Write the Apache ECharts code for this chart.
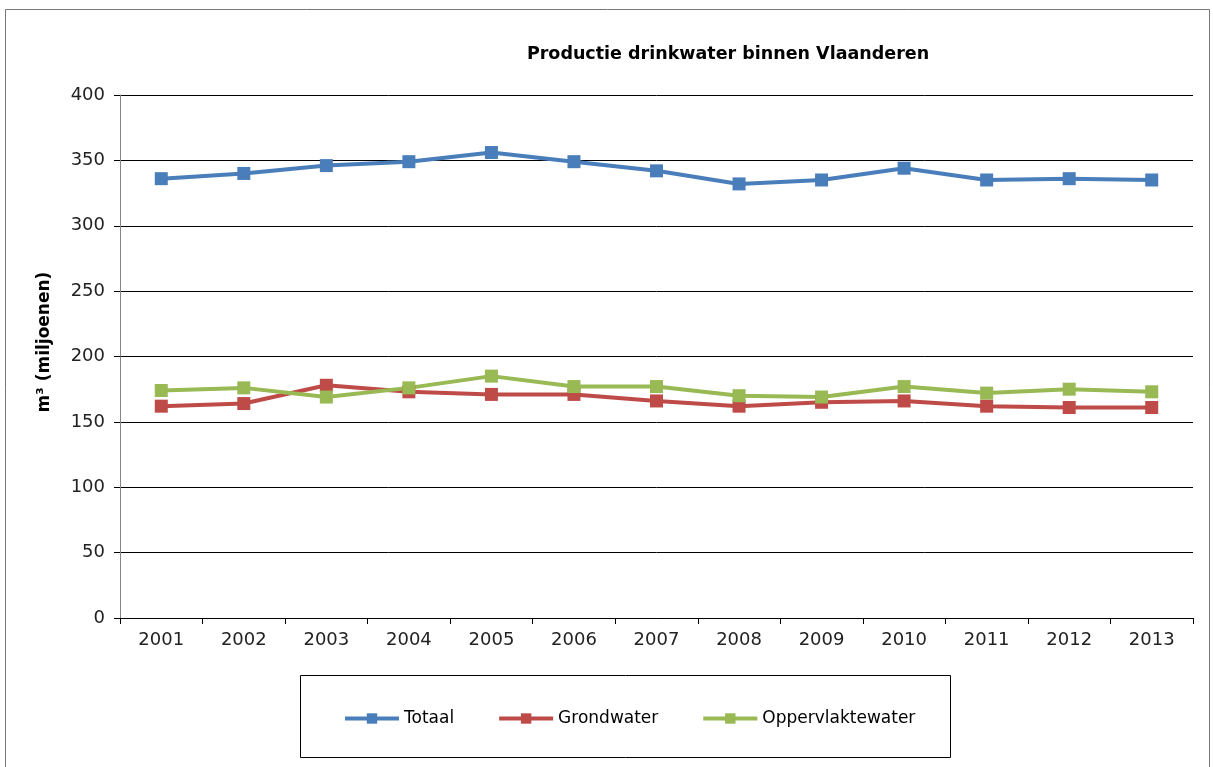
<!DOCTYPE html>
<html>
<head>
<meta charset="utf-8">
<script src="https://cdn.jsdelivr.net/npm/echarts@6/dist/echarts.min.js"></script>
<style>html,body{margin:0;padding:0;background:#fff}#c{width:1213px;height:767px}</style>
</head>
<body>
<div id="c"></div>
<script>
var years = ['2001','2002','2003','2004','2005','2006','2007','2008','2009','2010','2011','2012','2013'];
var totaal = [336, 340, 346, 349, 356, 349, 342, 332, 335, 344, 335, 336, 335];
var grondwater = [162, 164, 178, 173, 171, 171, 166, 162, 165, 166, 162, 161, 161];
var oppervlaktewater = [174, 176, 169, 176, 185, 177, 177, 170, 169, 177, 172, 175, 173];
var yTicks = [0, 50, 100, 150, 200, 250, 300, 350, 400];

var chart = echarts.init(document.getElementById('c'));
var wfont = 'DejaVu Sans, sans-serif';
function mk(name, data, color) {
  return {
    name: name, type: 'line', data: data,
    symbol: 'rect', symbolSize: 13,
    lineStyle: { color: color, width: 4 },
    itemStyle: { color: color },
    emphasis: { disabled: true },
    animation: false
  };
}
chart.setOption({
  animation: false,
  title: {
    text: 'Productie drinkwater binnen Vlaanderen',
    left: 723, top: 40, textAlign: 'center',
    textStyle: { fontFamily: wfont, fontSize: 17.5, fontWeight: 'bold', color: '#000' }
  },
  graphic: [
    { type: 'rect', shape: { x: 5.5, y: 9.5, width: 1204, height: 770 }, style: { fill: 'none', stroke: '#777', lineWidth: 1 }, z: -1 },
    { type: 'rect', shape: { x: 300.5, y: 675.5, width: 650, height: 82 }, style: { fill: 'none', stroke: '#000', lineWidth: 1 }, z: -1 },
    { type: 'text', x: 45, y: 342, rotation: Math.PI / 2,
      style: { text: 'm³ (miljoenen)', fontFamily: wfont, fontSize: 17, fontWeight: 'bold', fill: '#000', align: 'center', verticalAlign: 'middle' } }
  ],
  legend: {
    left: 343, top: 710, padding: 0, itemWidth: 54, itemHeight: 13, itemGap: 43,
    lineStyle: { width: 4 },
    textStyle: { fontFamily: wfont, fontSize: 17, color: '#000' },
    data: ['Totaal', 'Grondwater', 'Oppervlaktewater']
  },
  grid: { left: 120, right: 20, top: 95, bottom: 149 },
  xAxis: {
    type: 'category', data: years, boundaryGap: true,
    axisLine: { lineStyle: { color: '#000', width: 1 } },
    axisTick: { show: true, length: 6, lineStyle: { color: '#000' } },
    axisLabel: { fontFamily: wfont, fontSize: 18, color: '#222', margin: 13 }
  },
  yAxis: {
    type: 'value', min: 0, max: 400, interval: 50,
    axisLine: { show: true, lineStyle: { color: '#868686' } },
    axisTick: { show: true, length: 6, lineStyle: { color: '#000' } },
    axisLabel: { fontFamily: wfont, fontSize: 18, color: '#222', margin: 15,
      formatter: function (v) { return yTicks.indexOf(v) >= 0 ? String(v) : ''; } },
    splitLine: { show: true, lineStyle: { color: '#000', width: 1 } }
  },
  series: [
    mk('Totaal', totaal, '#4a7ebb'),
    mk('Grondwater', grondwater, '#be4b48'),
    mk('Oppervlaktewater', oppervlaktewater, '#98b954')
  ]
});
</script>
</body>
</html>
